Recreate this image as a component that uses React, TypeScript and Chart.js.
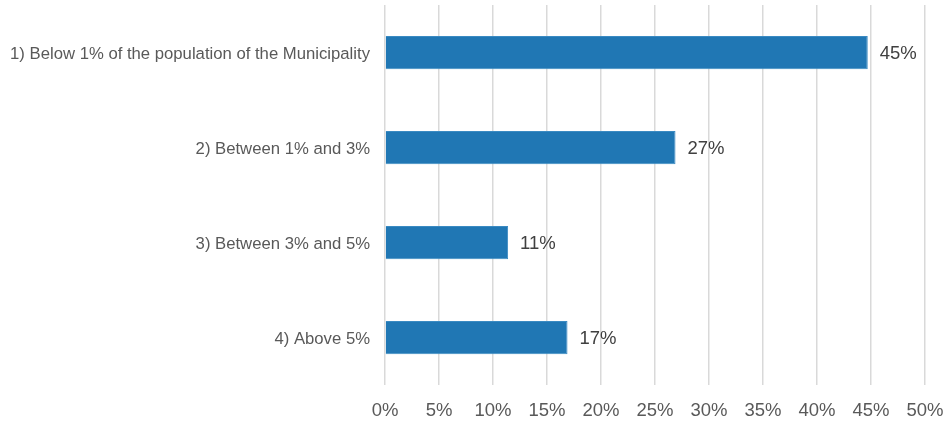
import React, { useEffect, useRef } from "react";
import { Chart, registerables } from "chart.js";

Chart.register(...registerables);

const categories = [
  "1) Below 1% of the population of the Municipality",
  "2) Between 1% and 3%",
  "3) Between 3% and 5%",
  "4) Above 5%",
];
const values = [44.7, 26.9, 11.4, 16.9];
const valueLabels = ["45%", "27%", "11%", "17%"];
const xTicks = [0, 5, 10, 15, 20, 25, 30, 35, 40, 45, 50];

const FONT = "'Liberation Sans', Arial, sans-serif";

const dataLabelPlugin = {
  id: "dataLabels",
  afterDatasetsDraw(chart: any) {
    const ctx = chart.ctx;
    const meta = chart.getDatasetMeta(0);
    ctx.save();
    ctx.font = `18.5px ${FONT}`;
    ctx.fillStyle = "#404040";
    ctx.textAlign = "left";
    ctx.textBaseline = "middle";
    meta.data.forEach((bar: any, i: number) => {
      ctx.fillText(valueLabels[i], bar.x + 12, bar.y + 1.5);
    });
    ctx.restore();
  },
};

export default function App() {
  const ref = useRef<HTMLCanvasElement>(null);
  useEffect(() => {
    if (!ref.current) return;
    const chart = new Chart(ref.current, {
      type: "bar",
      data: {
        labels: categories,
        datasets: [
          {
            data: values,
            backgroundColor: "#2077b4",
            borderColor: "#3a8ac2",
            borderWidth: 1,
            categoryPercentage: 1,
            barPercentage: 0.35,
          },
        ],
      },
      options: {
        indexAxis: "y",
        animation: false,
        responsive: false,
        maintainAspectRatio: false,
        layout: { padding: { top: 5, right: 21, left: 0, bottom: 0 } },
        plugins: { legend: { display: false }, tooltip: { enabled: false } },
        scales: {
          x: {
            min: 0,
            max: 50,
            afterBuildTicks(scale: any) {
              scale.ticks = xTicks.map((v) => ({ value: v }));
            },
            afterFit(scale: any) {
              scale.height = 40;
              scale.paddingLeft = 0;
              scale.paddingRight = 0;
            },
            grid: { color: "#d9d9d9", lineWidth: 1.5, drawTicks: false },
            border: { display: false },
            ticks: {
              padding: 15,
              color: "#595959",
              font: { family: FONT, size: 18.5 },
              callback: (v: any) => `${v}%`,
            },
          },
          y: {
            afterFit(scale: any) {
              scale.width = 385;
              scale.paddingTop = 0;
              scale.paddingBottom = 0;
            },
            grid: { display: false, drawTicks: false },
            border: { display: false },
            ticks: {
              padding: 15,
              labelOffset: 1.5,
              color: "#595959",
              font: { family: FONT, size: 16.7 },
            },
          },
        },
      },
      plugins: [dataLabelPlugin],
    });
    return () => chart.destroy();
  }, []);
  return (
    <div style={{ position: "absolute", left: 0, top: 0, width: 946, height: 425, background: "#fff" }}>
      <canvas ref={ref} width={946} height={425} />
    </div>
  );
}
